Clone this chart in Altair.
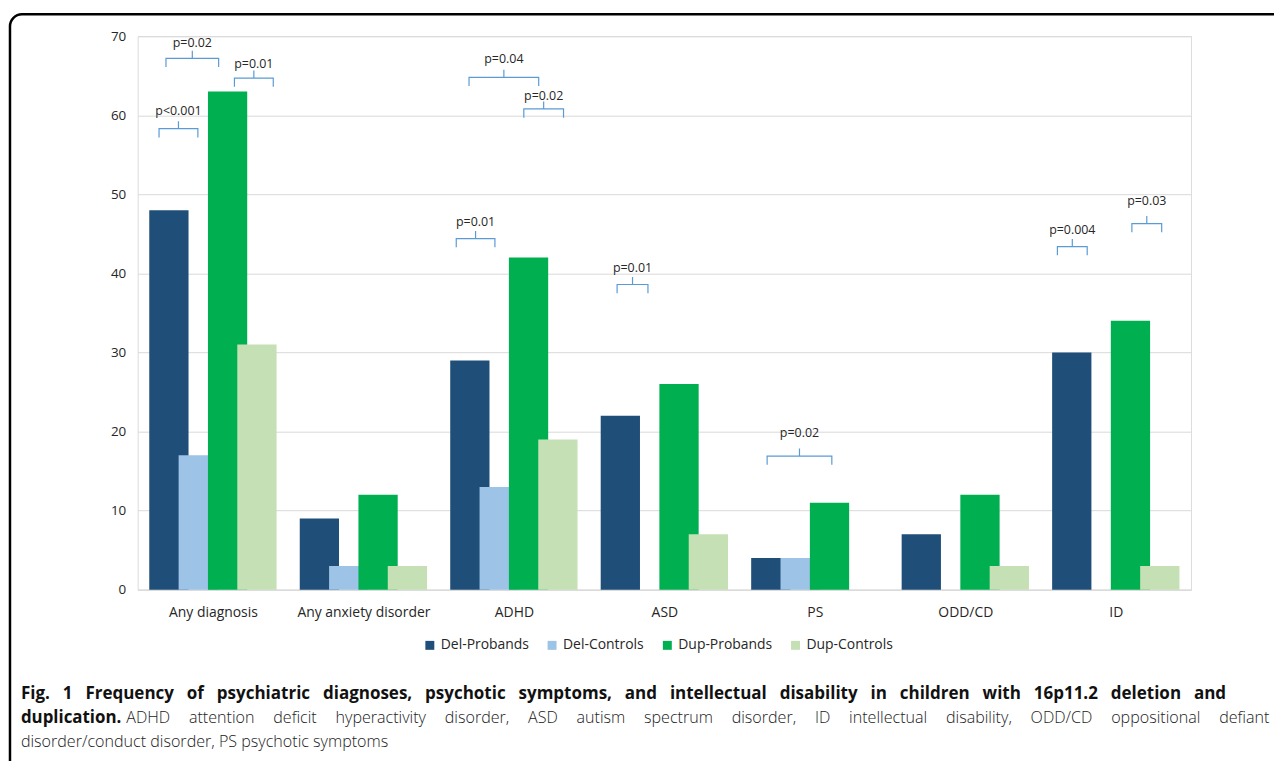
import json
import altair as alt
import pandas as pd

categories = ["Any diagnosis", "Any anxiety disorder", "ADHD", "ASD", "PS", "ODD/CD", "ID"]
series = ["Del-Probands", "Del-Controls", "Dup-Probands", "Dup-Controls"]
del_probands = [48, 9, 29, 22, 4, 7, 30]
del_controls = [17, 3, 13, 0, 4, 0, 0]
dup_probands = [63, 12, 42, 26, 11, 12, 34]
dup_controls = [31, 3, 19, 7, 0, 3, 3]
colors = ["#1F4E79", "#9DC3E6", "#00B050", "#C5E0B4"]

p_labels = ["p<0.001", "p=0.02", "p=0.01", "p=0.04", "p=0.02", "p=0.01", "p=0.01", "p=0.02", "p=0.004", "p=0.03"]
p_left = [0.142, 0.188, 0.643, 2.202, 2.566, 2.117, 3.186, 4.183, 6.112, 6.607]
p_right = [0.400, 0.538, 0.901, 2.665, 2.830, 2.374, 3.391, 4.613, 6.310, 6.805]
p_level = [58.3, 67.2, 64.7, 64.8, 60.8, 44.4, 38.6, 16.9, 43.4, 46.3]
p_text_level = [60.5, 69.1, 66.5, 67.1, 62.4, 46.5, 40.7, 19.8, 45.5, 49.2]

cap1 = "Fig. 1 Frequency of psychiatric diagnoses, psychotic symptoms, and intellectual disability in children with 16p11.2 deletion and"
cap2_bold = "duplication."
cap2 = "ADHD attention deficit hyperactivity disorder, ASD autism spectrum disorder, ID intellectual disability, ODD/CD oppositional defiant"
cap3 = "disorder/conduct disorder, PS psychotic symptoms"

# justified lines in the original: widen the word spaces
cap1_j = cap1.replace(" ", " \u2002")
cap2_j = cap2.replace(" ", "\u2002\u2002\u2006")

# ---- build tables ----
values_by_series = [del_probands, del_controls, dup_probands, dup_controls]
STEP = 0.195
BAR_W = 0.261
rows = []
for i, cat in enumerate(categories):
    for s, name in enumerate(series):
        v = values_by_series[s][i]
        if v == 0:
            continue
        center = i + 0.5 + (s - 1.5) * STEP
        rows.append({"category": cat, "series": name, "value": v, "base": 0,
                     "x0": center - BAR_W / 2, "x1": center + BAR_W / 2, "ord": i * 10 + s})
bars_df = pd.DataFrame(rows)

TIP = 1.1
TICK = 0.95
brows = []
for k in range(len(p_labels)):
    xl, xr, y = p_left[k], p_right[k], p_level[k]
    xm = (xl + xr) / 2
    pts = [(xl, y - TIP), (xl, y), (xm, y), (xm, y + TICK), (xm, y), (xr, y), (xr, y - TIP)]
    for j, (px, py) in enumerate(pts):
        brows.append({"b": k, "o": j, "x": px, "y": py})
br_df = pd.DataFrame(brows)
pt_df = pd.DataFrame({"label": p_labels,
                      "x": [(a + b) / 2 for a, b in zip(p_left, p_right)],
                      "y": p_text_level})

W, H = 1060, 557
FONT = "Open Sans"
xscale = alt.Scale(domain=[0, 7], nice=False, zero=False)
yscale = alt.Scale(domain=[0, 70], nice=False)
label_expr = json.dumps(categories) + "[floor(datum.value)]"

bars = alt.Chart(bars_df).mark_rect().encode(
    x=alt.X("x0:Q", scale=xscale,
            axis=alt.Axis(values=[i + 0.5 for i in range(len(categories))], labelExpr=label_expr,
                          title=None, ticks=False, grid=False, domain=True, domainColor="#D9D9D9",
                          domainWidth=1, labelFont=FONT, labelFontSize=14, labelColor="#262626",
                          labelPadding=16, labelFlush=False, labelOverlap=False)),
    x2="x1:Q",
    y=alt.Y("value:Q", scale=yscale,
            axis=alt.Axis(values=list(range(0, 71, 10)), title=None, ticks=False, domain=False,
                          grid=True, gridColor="#D9D9D9", gridWidth=1, labelFont=FONT,
                          labelFontSize=13.5, labelColor="#262626", labelPadding=12)),
    y2="base:Q",
    color=alt.Color("series:N", scale=alt.Scale(domain=series, range=colors),
                    legend=alt.Legend(title=None, orient="none", direction="horizontal",
                                      legendX=287, legendY=606, symbolType="square", symbolSize=81,
                                      symbolStrokeWidth=0, labelFont=FONT, labelFontSize=14,
                                      labelColor="#262626", labelOffset=4, columnPadding=16,
                                      padding=0)),
    order=alt.Order("ord:Q"),
)

brackets = alt.Chart(br_df).mark_line(color="#5B9BD5", strokeWidth=1.2).encode(
    x=alt.X("x:Q", scale=xscale),
    y=alt.Y("y:Q", scale=yscale),
    detail="b:N",
    order="o:Q",
)

ptext = alt.Chart(pt_df).mark_text(font=FONT, fontSize=12.5, color="#262626", baseline="middle").encode(
    x=alt.X("x:Q", scale=xscale),
    y=alt.Y("y:Q", scale=yscale),
    text="label:N",
)

one = pd.DataFrame({"a": [0]})
border = alt.Chart(one).mark_rect(filled=False, stroke="black", strokeWidth=2.5, cornerRadius=12).encode(
    x=alt.value(-128.5), x2=alt.value(1170), y=alt.value(-22), y2=alt.value(760)
)

CAP_FONT = "Open Sans"
c1 = alt.Chart(one).mark_text(text=cap1_j, font=CAP_FONT, fontSize=17.1, fontWeight="bold", color="#111",
                              align="left", baseline="middle").encode(x=alt.value(-117.5), y=alt.value(662))
c2b = alt.Chart(one).mark_text(text=cap2_bold, font=CAP_FONT, fontSize=17, fontWeight="bold", color="#111",
                               align="left", baseline="middle").encode(x=alt.value(-117.5), y=alt.value(686))
c2 = alt.Chart(one).mark_text(text=cap2_j, font=CAP_FONT, fontSize=16.2, fontWeight=300, color="#222",
                              align="left", baseline="middle").encode(x=alt.value(-11.5), y=alt.value(686))
c3 = alt.Chart(one).mark_text(text=cap3, font=CAP_FONT, fontSize=16.2, fontWeight=300, color="#222",
                              align="left", baseline="middle").encode(x=alt.value(-117.5), y=alt.value(710))

chart = alt.layer(bars, brackets, ptext, border, c1, c2b, c2, c3).properties(
    width=W, height=H,
    autosize=alt.AutoSizeParams(type="none"),
    padding={"left": 130.5, "top": 26, "right": 83.5, "bottom": 170},
).configure_view(stroke=None).configure(background="white")

chart.save("out.html", embed_options={"renderer": "svg", "actions": False})
